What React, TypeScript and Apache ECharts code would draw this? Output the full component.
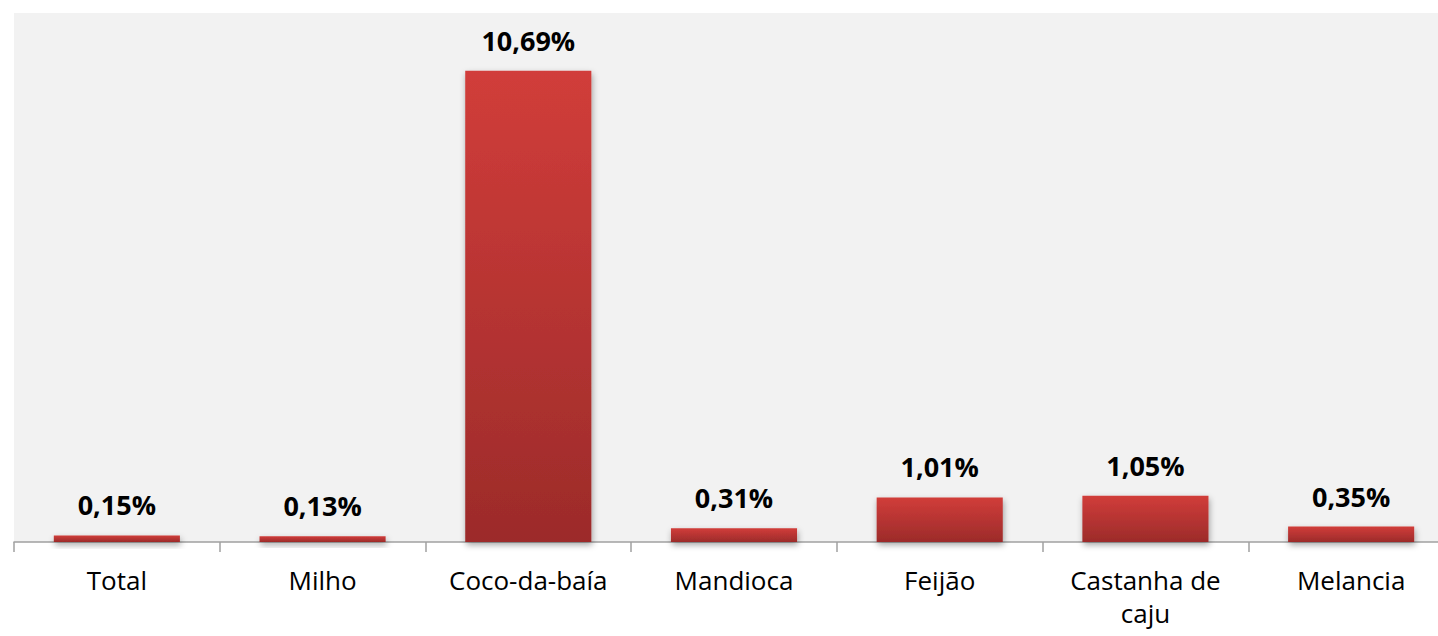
import React, { useEffect, useRef } from "react";
import * as echarts from "echarts";

const categories = ["Total", "Milho", "Coco-da-baía", "Mandioca", "Feijão", "Castanha de\ncaju", "Melancia"];
const values = [0.15, 0.13, 10.69, 0.31, 1.01, 1.05, 0.35];
const yMax = 12;

const FONT = "'Open Sans', sans-serif";

export default function App() {
  const ref = useRef<HTMLDivElement>(null);
  useEffect(() => {
    const chart = echarts.init(ref.current!, null, { renderer: "svg" });
    chart.setOption({
      animation: false,
      backgroundColor: "#ffffff",
      grid: {
        left: 14,
        right: 0,
        top: 13,
        bottom: 94,
        show: true,
        backgroundColor: "#f2f2f2",
        borderWidth: 0,
        outerBoundsMode: "none",
      },
      xAxis: {
        type: "category",
        data: categories,
        axisLine: { lineStyle: { color: "#a0a0a0", width: 1.5 } },
        axisTick: { show: true, alignWithLabel: false, length: 10, lineStyle: { color: "#a0a0a0", width: 1.5 } },
        axisLabel: {
          fontFamily: FONT,
          fontSize: 26,
          color: "#000",
          margin: 21,
          lineHeight: 33,
          interval: 0,
        },
      },
      yAxis: {
        type: "value",
        min: 0,
        max: yMax,
        show: false,
        splitLine: { show: false },
      },
      series: [
        {
          type: "bar",
          data: values,
          barCategoryGap: "38.7%",
          itemStyle: {
            color: new echarts.graphic.LinearGradient(0, 0, 0, 1, [
              { offset: 0, color: "#d13d3a" },
              { offset: 1, color: "#9c2b2a" },
            ]),
            shadowColor: "rgba(0,0,0,0.35)",
            shadowBlur: 6,
            shadowOffsetY: 3,
            shadowOffsetX: 1,
          },
          label: {
            show: true,
            position: "top",
            distance: 17,
            fontFamily: FONT,
            fontSize: 27,
            fontWeight: "bold",
            color: "#000",
            formatter: (p: any) => p.value.toFixed(2).replace(".", ",") + "%",
          },
        },
      ],
    });
    return () => chart.dispose();
  }, []);
  return (
    <div style={{ position: "fixed", left: 0, top: 0, width: 1438, height: 636, overflow: "hidden" }}>
      <div ref={ref} style={{ width: 1454, height: 636 }} />
    </div>
  );
}
